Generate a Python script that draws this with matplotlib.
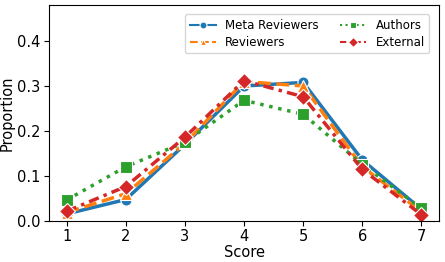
import numpy as np
import matplotlib
matplotlib.use("Agg")
import matplotlib.pyplot as plt

scores = [1, 2, 3, 4, 5, 6, 7]
meta_reviewers = [0.015, 0.047, 0.170, 0.300, 0.308, 0.135, 0.025]
reviewers = [0.018, 0.060, 0.172, 0.310, 0.300, 0.120, 0.020]
authors = [0.046, 0.120, 0.175, 0.268, 0.237, 0.125, 0.027]
external = [0.021, 0.076, 0.186, 0.312, 0.276, 0.114, 0.013]

series = [
    ("Meta Reviewers", meta_reviewers, "#1f77b4", "-", "o"),
    ("Reviewers", reviewers, "#ff7f0e", "--", "^"),
    ("Authors", authors, "#2ca02c", ":", "s"),
    ("External", external, "#d62728", (0, (3, 1.5, 1, 1.5)), "D"),
]

plt.rcParams["font.size"] = 10
fig, ax = plt.subplots(figsize=(4.45, 2.62), dpi=100)

for name, vals, col, ls, mk in series:
    ax.plot(scores, vals, color=col, linestyle=ls, linewidth=2.5, marker=mk,
            markersize=8, markeredgecolor="white", markeredgewidth=0.8, label=name)

ax.set_xlim(0.7, 7.3)
ax.set_ylim(0, 0.48)
ax.set_yticks([0.0, 0.1, 0.2, 0.3, 0.4])
ax.set_xticks(scores)
ax.tick_params(labelsize=10.5, pad=2.5)
ax.set_xlabel("Score", fontsize=10.5, labelpad=1)
ax.set_ylabel("Proportion", fontsize=10.5, labelpad=2)

leg = ax.legend(ncol=2, fontsize=8.5, loc="upper right", handlelength=2.2,
                columnspacing=1.8, borderpad=0.4, labelspacing=0.3,
                bbox_to_anchor=(0.99, 0.985))
for h in leg.legend_handles:
    h.set_linewidth(1.5)
    h.set_markersize(5)

plt.subplots_adjust(left=0.11, right=0.987, top=0.98, bottom=0.158)
plt.savefig("out.png", dpi=100)
